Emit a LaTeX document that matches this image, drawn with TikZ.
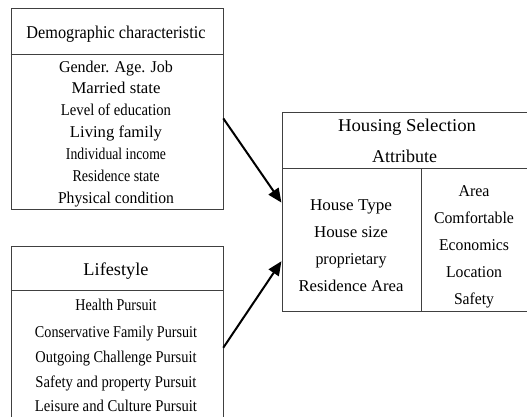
\documentclass[tikz,border=0pt]{standalone}
\usepackage{fontspec}
\setmainfont{Liberation Serif}
\usetikzlibrary{arrows.meta}
\newcommand{\fitw}[2]{\resizebox{#1pt}{\height}{#2}}
\begin{document}
\begin{tikzpicture}[x=1pt,y=-1pt,
  box/.style={draw=black!75, line width=0.8pt, inner sep=0pt, anchor=north west},
  rule/.style={draw=black!75, line width=0.8pt},
  txt/.style={inner sep=0pt, anchor=base, font=\fontsize{16.5}{19}\selectfont},
  ttl/.style={inner sep=0pt, anchor=base, font=\fontsize{18}{20}\selectfont},
  arr/.style={-{Triangle[length=14pt,width=12pt]}, line width=2pt, black, shorten >=1pt}]
\useasboundingbox (0,0) rectangle (527,416);
% boxes
\node[box, minimum width=212pt, minimum height=201pt] (demo) at (10.5,8) {};
\node[box, minimum width=212pt, minimum height=190pt] (life) at (10.5,246) {};
\node[box, minimum width=246pt, minimum height=199pt] (house) at (282,112) {};
% dividers
\coordinate (d1) at (10.5,54); \coordinate (d2) at (222.5,54);
\draw[rule] (d1) -- (d2);
\coordinate (l1) at (10.5,290); \coordinate (l2) at (222.5,290);
\draw[rule] (l1) -- (l2);
\coordinate (h1) at (282,168); \coordinate (h2) at (528,168);
\draw[rule] (h1) -- (h2);
\coordinate (v1) at (421.7,168); \coordinate (v2) at (421.7,311);
\draw[rule] (v1) -- (v2);
% demographic
\node[ttl] (dt) at (116,38) {\fitw{179}{Demographic characteristic}};
\node[txt] (g1) at (116,72) {\fitw{114}{Gender. Age. Job}};
\node[txt] (g2) at (116,93) {\fitw{89}{Married state}};
\node[txt] (g3) at (116,115) {\fitw{110}{Level of education}};
\node[txt] (g4) at (116,137) {\fitw{92}{Living family}};
\node[txt] (g5) at (116,159) {\fitw{100}{Individual income}};
\node[txt] (g6) at (116,181) {\fitw{87}{Residence state}};
\node[txt] (g7) at (116,203) {\fitw{116}{Physical condition}};
% lifestyle
\node[ttl] (lt) at (116,275) {\fitw{65}{Lifestyle}};
\node[txt] (s1) at (116,310) {\fitw{81}{Health Pursuit}};
\node[txt] (s2) at (116,337) {\fitw{162}{Conservative Family Pursuit}};
\node[txt] (s3) at (116,362) {\fitw{161}{Outgoing Challenge Pursuit}};
\node[txt] (s4) at (116,387) {\fitw{161}{Safety and property Pursuit}};
\node[txt] (s5) at (116,411) {\fitw{162}{Leisure and Culture Pursuit}};
% housing
\node[ttl] (ht1) at (407,131) {\fitw{138}{Housing Selection}};
\node[ttl] (ht2) at (404.5,162) {\fitw{65}{Attribute}};
\node[txt] (a1) at (351,210) {\fitw{82}{House Type}};
\node[txt] (a2) at (351,237) {\fitw{74}{House size}};
\node[txt] (a3) at (351,264) {\fitw{71}{proprietary}};
\node[txt] (a4) at (351,291) {\fitw{105}{Residence Area}};
\node[txt] (b1) at (474,196) {\fitw{31}{Area}};
\node[txt] (b2) at (474,223) {\fitw{80}{Comfortable}};
\node[txt] (b3) at (474,250) {\fitw{70}{Economics}};
\node[txt] (b4) at (474,277) {\fitw{56}{Location}};
\node[txt] (b5) at (474,304) {\fitw{40}{Safety}};
% arrows
\draw[arr] ([yshift=-9.5pt]demo.east) -- ([yshift=8.5pt]house.west);
\draw[arr] ([yshift=-101.7pt]life.north east) -- ([yshift=-48.5pt]house.west);
\end{tikzpicture}
\end{document}
